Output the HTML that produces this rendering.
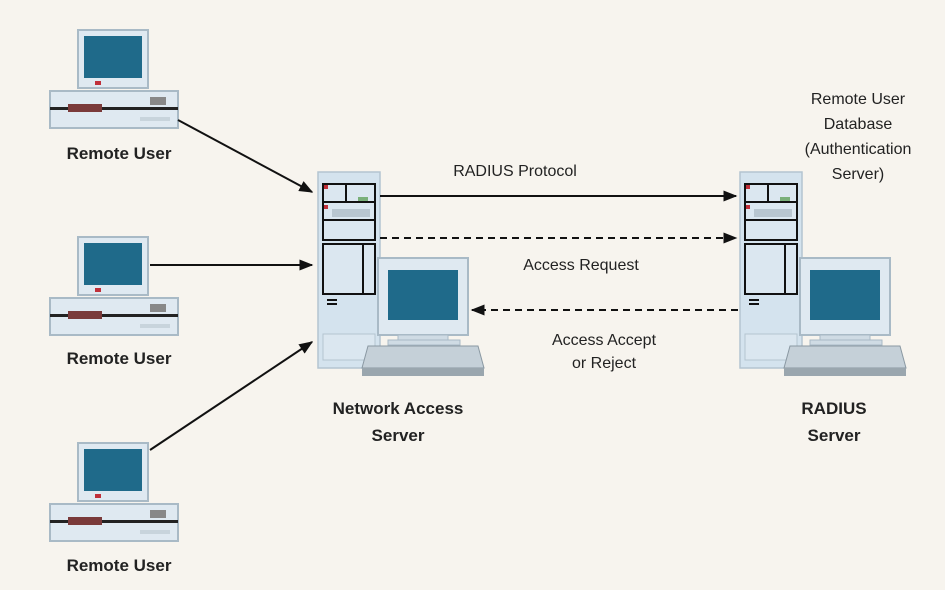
<!DOCTYPE html>
<html><head><meta charset="utf-8"><style>
body{margin:0;background:#f7f4ee;}
svg{display:block}
text{font-family:"Liberation Sans",sans-serif;fill:#222}
.b{font-weight:bold;font-size:17px}
.r{font-size:16px}
</style></head><body>
<svg width="945" height="590" viewBox="0 0 945 590">
<defs>
<marker id="ah" viewBox="0 0 10 10" refX="9" refY="5" markerWidth="7" markerHeight="7" orient="auto"><path d="M0,1 L10,5 L0,9 z" fill="#111"/></marker>
<g id="pc">
 <rect x="28" y="10" width="70" height="58" fill="#dfe9f1" stroke="#a9bac6" stroke-width="2"/>
 <rect x="34" y="16" width="58" height="42" fill="#1f6a8a"/>
 <rect x="45" y="61" width="6" height="4" fill="#c0303a"/>
 <rect x="0" y="71" width="128" height="37" fill="#dfe9f1" stroke="#a9bac6" stroke-width="2"/>
 <rect x="0" y="87" width="128" height="3" fill="#222"/>
 <rect x="18" y="84" width="34" height="8" fill="#7a3a3a"/>
 <rect x="100" y="77" width="16" height="8" fill="#888"/>
 <rect x="90" y="97" width="30" height="4" fill="#c8d4dc"/>
</g>
<g id="srv">
 <rect x="0" y="0" width="62" height="196" fill="#d4e3ee" stroke="#b4c4d0" stroke-width="1.5"/>
 <rect x="5" y="12" width="52" height="56" fill="#dbe7f0" stroke="#111" stroke-width="2"/>
 <line x1="5" y1="30" x2="57" y2="30" stroke="#111" stroke-width="2"/>
 <line x1="5" y1="48" x2="57" y2="48" stroke="#111" stroke-width="2"/>
 <line x1="28" y1="12" x2="28" y2="30" stroke="#111" stroke-width="2"/>
 <rect x="6" y="13" width="4" height="4" fill="#c0303a"/>
 <rect x="6" y="33" width="4" height="4" fill="#c0303a"/>
 <rect x="14" y="37" width="38" height="8" fill="#b8c6d0"/>
 <rect x="40" y="25" width="10" height="4" fill="#7ab07a"/>
 <rect x="5" y="72" width="52" height="50" fill="#dbe7f0" stroke="#111" stroke-width="2"/>
 <line x1="45" y1="72" x2="45" y2="122" stroke="#111" stroke-width="2"/>
 <rect x="9" y="127" width="10" height="2" fill="#111"/>
 <rect x="9" y="131" width="10" height="2" fill="#111"/>
 <rect x="5" y="162" width="52" height="26" fill="#dbe7f0" stroke="#b4c4d0"/>
 <rect x="60" y="86" width="90" height="77" fill="#dfe9f1" stroke="#a9bac6" stroke-width="2"/>
 <rect x="70" y="98" width="70" height="50" fill="#1f6a8a"/>
 <rect x="80" y="163" width="50" height="5" fill="#cfdbe4" stroke="#a9bac6"/>
 <rect x="70" y="168" width="72" height="5" fill="#cfdbe4" stroke="#a9bac6"/>
 <path d="M50,174 L160,174 L166,196 L44,196 Z" fill="#c5d0d8" stroke="#8a98a2"/>
 <rect x="44" y="196" width="122" height="8" fill="#9aa6ae"/>
</g>
</defs>
<use href="#pc" x="50" y="20"/>
<use href="#pc" x="50" y="227"/>
<use href="#pc" x="50" y="433"/>
<use href="#srv" x="318" y="172"/>
<use href="#srv" x="740" y="172"/>
<g stroke="#111" stroke-width="2" fill="none">
 <line x1="178" y1="120" x2="312" y2="192" marker-end="url(#ah)"/>
 <line x1="150" y1="265" x2="312" y2="265" marker-end="url(#ah)"/>
 <line x1="150" y1="450" x2="312" y2="342" marker-end="url(#ah)"/>
 <line x1="380" y1="196" x2="736" y2="196" marker-end="url(#ah)"/>
 <line x1="380" y1="238" x2="736" y2="238" stroke-dasharray="7,5" marker-end="url(#ah)"/>
 <line x1="738" y1="310" x2="472" y2="310" stroke-dasharray="7,5" marker-end="url(#ah)"/>
</g>
<g text-anchor="middle">
<text class="b" x="119" y="159">Remote User</text>
<text class="b" x="119" y="364">Remote User</text>
<text class="b" x="119" y="571">Remote User</text>
<text class="b" x="398" y="414">Network Access</text>
<text class="b" x="398" y="441">Server</text>
<text class="b" x="834" y="414">RADIUS</text>
<text class="b" x="834" y="441">Server</text>
<text class="r" x="515" y="176">RADIUS Protocol</text>
<text class="r" x="581" y="270">Access Request</text>
<text class="r" x="604" y="345">Access Accept</text>
<text class="r" x="604" y="368">or Reject</text>
<text class="r" x="858" y="104">Remote User</text>
<text class="r" x="858" y="129">Database</text>
<text class="r" x="858" y="154">(Authentication</text>
<text class="r" x="858" y="179">Server)</text>
</g>
</svg>
</body></html>
